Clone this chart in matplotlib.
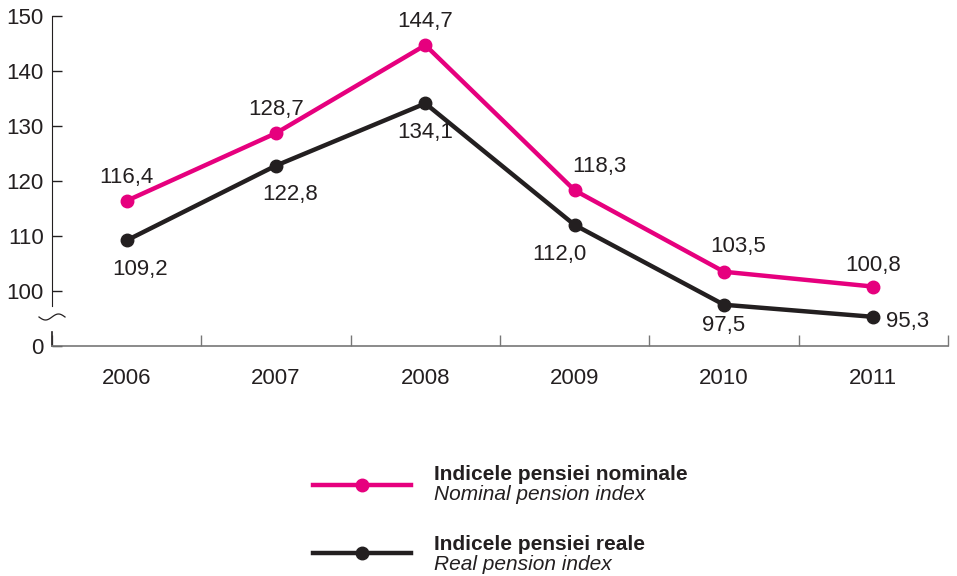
import numpy as np
import matplotlib.pyplot as plt
from matplotlib.lines import Line2D

plt.rcParams['font.family'] = ['Liberation Sans', 'DejaVu Sans']

years = ['2006', '2007', '2008', '2009', '2010', '2011']
nominal = [116.4, 128.7, 144.7, 118.3, 103.5, 100.8]
real = [109.2, 122.8, 134.1, 112.0, 97.5, 95.3]
y_ticks = [90, 100, 110, 120, 130, 140, 150]
y_labels = ['0', '100', '110', '120', '130', '140', '150']

pink = '#E6007E'
dark = '#231F20'
W, H = 957, 576

fig = plt.figure(figsize=(9.57, 5.76), dpi=100)
ax = fig.add_axes([52 / W, 1 - 346 / H, 896 / W, 330 / H])

x = [i + 0.5 for i in range(len(years))]
ax.plot(x, nominal, color=pink, lw=3.2, marker='o', ms=9, zorder=3)
ax.plot(x, real, color=dark, lw=3.2, marker='o', ms=9, zorder=3)

ax.set_xlim(0, 6)
ax.set_ylim(90, 150)

# value labels (offsets in points)
fs = 16
offs_nom = [(0, 17), (0, 17), (0, 17), (18, 17), (10, 18), (0, 15)]
offs_real = [(10, -21), (10, -21), (0, -21), (-11, -21), (0, -15), (25, -3)]
for xi, v, o in zip(x, nominal, offs_nom):
    ax.annotate(f'{v:.1f}'.replace('.', ','), (xi, v), xytext=o, textcoords='offset points',
                ha='center', va='center', fontsize=fs, color=dark)
for xi, v, o in zip(x, real, offs_real):
    ax.annotate(f'{v:.1f}'.replace('.', ','), (xi, v), xytext=o, textcoords='offset points',
                ha='center', va='center', fontsize=fs, color=dark)

# axes styling, broken y axis
for s in ['top', 'right']:
    ax.spines[s].set_visible(False)
ax.spines['bottom'].set_color('#777777')
ax.spines['bottom'].set_linewidth(1.2)
ax.spines['left'].set_color(dark)
ax.spines['left'].set_bounds(97.3, 150)
ax.plot([0, 0], [90, 92.5], color=dark, lw=1.2, clip_on=False)
tx = np.linspace(39, 65, 40)
ty = 317 + 3 * np.sin((tx - 39) / 26 * 2 * np.pi)
fig.add_artist(Line2D(tx / W, 1 - ty / H, color=dark, lw=0.9))

ax.set_yticks(y_ticks)
ax.set_yticklabels(y_labels)
ax.tick_params(axis='y', direction='in', length=7, width=1, labelsize=16, colors=dark, pad=6)
ax.set_xticks(range(7))
ax.set_xticklabels([])
ax.set_xticks(x, minor=True)
ax.set_xticklabels(years, minor=True)
ax.tick_params(axis='x', which='major', direction='in', length=8, width=1, color='#777777')
ax.tick_params(axis='x', which='minor', length=0, labelsize=fs, pad=15.5, labelcolor=dark)

# legend
lfs = 15
fig.add_artist(Line2D([313 / W, 411 / W], [1 - 485 / H] * 2, color=pink, lw=3.2))
fig.add_artist(Line2D([362 / W], [1 - 485 / H], color=pink, marker='o', ms=9))
fig.add_artist(Line2D([313 / W, 411 / W], [1 - 553 / H] * 2, color=dark, lw=3.2))
fig.add_artist(Line2D([362 / W], [1 - 553 / H], color=dark, marker='o', ms=9))
fig.text(434 / W, 1 - 474 / H, 'Indicele pensiei nominale', fontsize=lfs, fontweight='bold',
         va='center', color=dark)
fig.text(434 / W, 1 - 495 / H, 'Nominal pension index', fontsize=lfs, style='italic',
         va='center', color=dark)
fig.text(434 / W, 1 - 545 / H, 'Indicele pensiei reale', fontsize=lfs, fontweight='bold',
         va='center', color=dark)
fig.text(434 / W, 1 - 565 / H, 'Real pension index', fontsize=lfs, style='italic',
         va='center', color=dark)

fig.savefig('out.png', dpi=100)
